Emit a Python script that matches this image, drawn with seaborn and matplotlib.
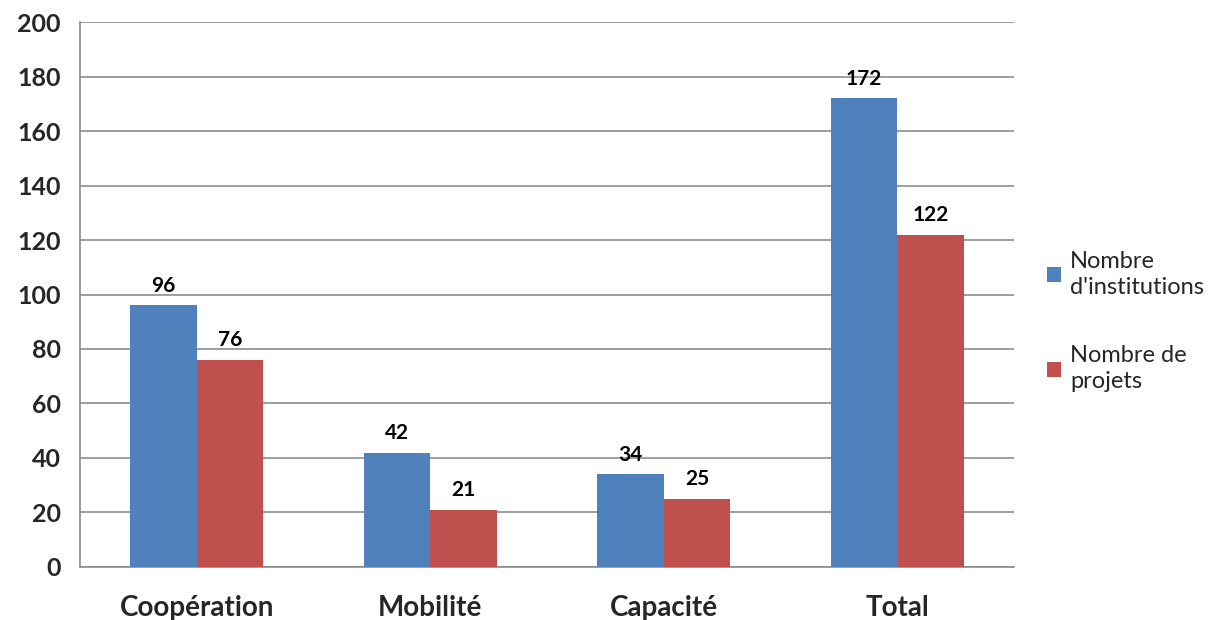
import numpy as np
import pandas as pd
import matplotlib.pyplot as plt
import seaborn as sns

# Données du graphique
categories = ["Coopération", "Mobilité", "Capacité", "Total"]
institutions = [96, 42, 34, 172]
projets = [76, 21, 25, 122]
series = ["Nombre\nd'institutions", "Nombre de\nprojets"]
couleurs = ["#4F81BD", "#C0504D"]

df = pd.DataFrame({
    "Catégorie": categories * 2,
    "Série": [series[0]] * len(categories) + [series[1]] * len(categories),
    "Valeur": institutions + projets,
})

sns.set_theme(style="white")
plt.rcParams["font.family"] = ["Lato", "DejaVu Sans"]

fig = plt.figure(figsize=(12.15, 6.2), dpi=100)
ax = fig.add_axes([0.0658, 0.0855, 0.769, 0.879])

sns.barplot(data=df, x="Catégorie", y="Valeur", hue="Série", palette=couleurs,
            width=0.57, saturation=1, ax=ax, zorder=3, edgecolor="none")

# étiquettes de valeurs
for cont in ax.containers:
    ax.bar_label(cont, padding=7, fontsize=15, fontweight="bold", color="black")

ax.set_ylim(0, 200)
ax.set_xlim(-0.5, 3.5)
ax.set_yticks(range(0, 201, 20))
ax.yaxis.grid(True, color="#8c8c8c", linewidth=1.2, zorder=0)
ax.set_xlabel("")
ax.set_ylabel("")

for s in ["top", "right"]:
    ax.spines[s].set_visible(False)
for s in ["left", "bottom"]:
    ax.spines[s].set_color("#8c8c8c")
    ax.spines[s].set_linewidth(1.2)

ax.tick_params(axis="y", length=9, width=1.2, color="#8c8c8c", direction="out",
               labelsize=18, pad=5)
for lab in ax.get_yticklabels():
    lab.set_fontweight("bold")
ax.tick_params(axis="x", which="major", length=0, labelsize=20, pad=20)
for lab in ax.get_xticklabels():
    lab.set_fontweight("bold")
ax.set_xticks(np.arange(-0.5, 4.0, 1.0), minor=True)
ax.tick_params(axis="x", which="minor", length=7, width=1.2, color="#8c8c8c",
               direction="out")

leg = ax.legend(loc="center left", bbox_to_anchor=(1.012, 0.45), frameon=False,
                fontsize=17, handlelength=0.6, handleheight=0.6,
                handletextpad=0.4, labelspacing=2.0)
for t in leg.get_texts():
    t.set_linespacing(1.3)

fig.savefig("out.png", dpi=100)
